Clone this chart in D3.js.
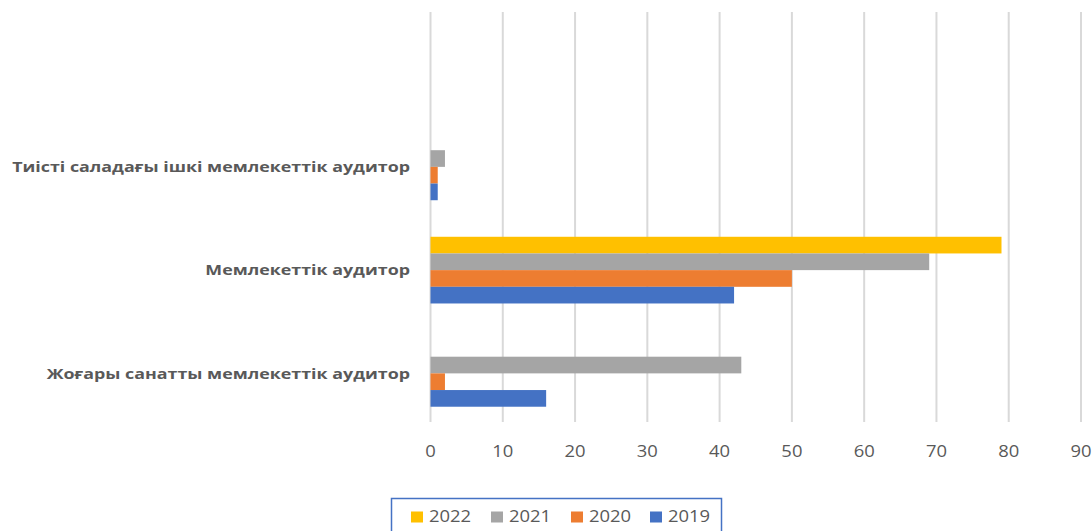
<!DOCTYPE html>
<html>
<head>
<meta charset="utf-8">
<script src="https://cdn.jsdelivr.net/npm/d3@7"></script>
<style>
  body { margin: 0; background: #fff; }
  svg { display: block; font-family: "Open Sans", "Segoe UI", sans-serif; }
</style>
</head>
<body>
<div id="chart"></div>
<script>
// categories top to bottom (first one is an empty row in the source sheet)
var categories = ["", "Тиісті саладағы ішкі мемлекеттік аудитор", "Мемлекеттік аудитор", "Жоғары санатты мемлекеттік аудитор"];
var years = ["2022", "2021", "2020", "2019"];
var values2022 = [0, 0, 79, 0];
var values2021 = [0, 2, 69, 43];
var values2020 = [0, 1, 50, 2];
var values2019 = [0, 1, 42, 16];
var xTicks = [0, 10, 20, 30, 40, 50, 60, 70, 80, 90];
var colors = ["#FFC000", "#A5A5A5", "#ED7D31", "#4472C4"];

var seriesValues = [values2022, values2021, values2020, values2019];

var svgWidth = 1092, svgHeight = 531;
// source picture is a bit stretched sideways, so text gets widened too
var stretch = 1.19;

var svg = d3.select("#chart")
  .append("svg")
  .attr("width", svgWidth)
  .attr("height", svgHeight);

/*== scales ==*/
var xScale = d3.scaleLinear()
  .domain([0, 90])
  .range([430.5, 1081]);

var yScale = d3.scaleBand()
  .domain(d3.range(categories.length))
  .range([12, 425])
  .paddingInner(0.354)
  .paddingOuter(0.177);

var inner = d3.scaleBand()
  .domain(years)
  .range([0, yScale.bandwidth()]);

/*== gridlines ==*/
svg.append("g")
  .selectAll("line")
  .data(xTicks)
  .enter()
  .append("line")
  .attr("x1", d => xScale(d))
  .attr("x2", d => xScale(d))
  .attr("y1", 12)
  .attr("y2", 422)
  .attr("stroke", "#d9d9d9")
  .attr("stroke-width", 2);

/*== bars ==*/
var groups = svg.append("g")
  .selectAll("g")
  .data(categories)
  .enter()
  .append("g")
  .attr("transform", (d, i) => `translate(0, ${yScale(i)})`);

groups.selectAll("rect")
  .data((d, i) => years.map((y, j) => ({ year: y, value: seriesValues[j][i], color: colors[j] })))
  .enter()
  .append("rect")
  .attr("x", xScale(0))
  .attr("y", d => inner(d.year))
  .attr("width", d => xScale(d.value) - xScale(0))
  .attr("height", inner.bandwidth())
  .attr("fill", d => d.color);

/*== x axis labels ==*/
var xg = svg.append("g")
  .attr("transform", "translate(0, 457)");
xg.selectAll("text")
  .data(xTicks)
  .enter()
  .append("text")
  .attr("transform", d => `translate(${xScale(d)}, 0) scale(${stretch}, 1)`)
  .attr("text-anchor", "middle")
  .attr("font-size", 15.5)
  .attr("fill", "#595959")
  .text(d => d);

/*== category labels ==*/
var yg = svg.append("g");
yg.selectAll("text")
  .data(categories)
  .enter()
  .append("text")
  .attr("transform", (d, i) => `translate(410, ${yScale(i) + yScale.bandwidth() / 2}) scale(${stretch}, 1)`)
  .attr("text-anchor", "end")
  .attr("dy", "0.35em")
  .attr("font-size", 15)
  .attr("font-weight", "bold")
  .attr("fill", "#595959")
  .text(d => d);

/*== legend ==*/
svg.append("rect")
  .attr("x", 391.5)
  .attr("y", 498.5)
  .attr("width", 330)
  .attr("height", 40)
  .attr("fill", "none")
  .attr("stroke", "#4472C4")
  .attr("stroke-width", 1.5);

var legendX = [411, 491, 571, 650];
var legend = svg.append("g")
  .selectAll("g")
  .data(years)
  .enter()
  .append("g")
  .attr("transform", (d, i) => `translate(${legendX[i]}, 517)`);

legend.append("rect")
  .attr("x", 0)
  .attr("y", -5.5)
  .attr("width", 12)
  .attr("height", 11)
  .attr("fill", (d, i) => colors[i]);

legend.append("text")
  .attr("transform", `translate(18, 0) scale(${stretch}, 1)`)
  .attr("dy", "0.35em")
  .attr("font-size", 15.5)
  .attr("fill", "#595959")
  .text(d => d);
</script>
</body>
</html>
